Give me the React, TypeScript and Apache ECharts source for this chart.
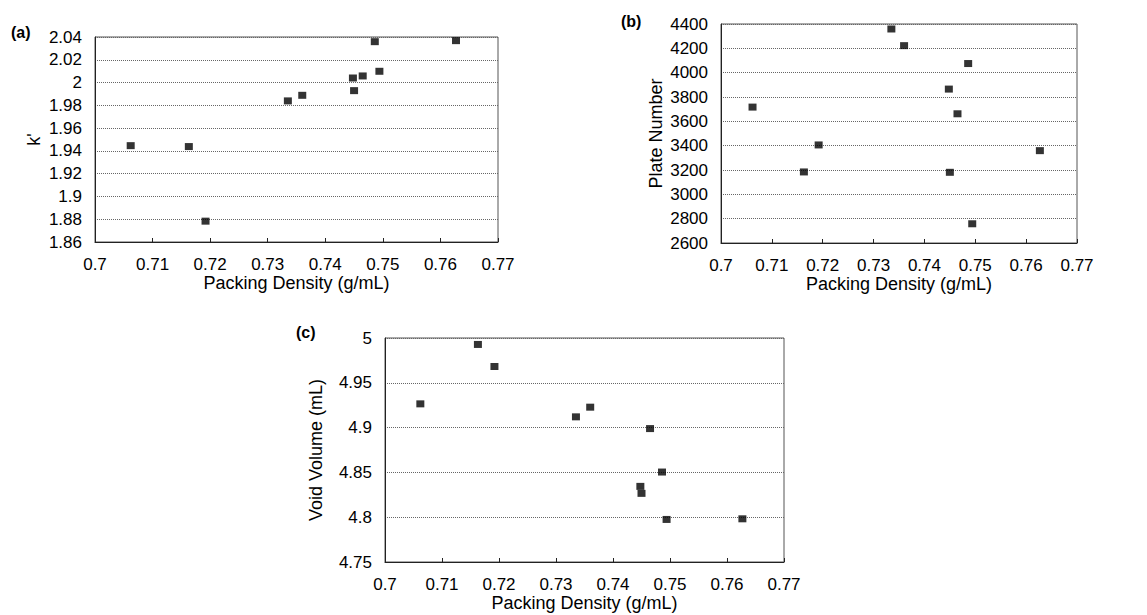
import React, { useEffect, useRef } from "react";
import * as echarts from "echarts";

// Packing density (g/mL), shared by all three panels
const density = [0.7062, 0.7163, 0.7192, 0.7335, 0.736, 0.7448, 0.745, 0.7465, 0.7486, 0.7494, 0.7627];
// (a) capacity factor k'
const kPrime = [1.9446, 1.9438, 1.8783, 1.9839, 1.9888, 2.004, 1.9929, 2.0058, 2.0359, 2.0099, 2.0368];
// (b) plate number
const plateNumber = [3717, 3184, 3406, 4359, 4222, 3865, 3181, 3662, 4075, 2758, 3359];
// (c) void volume (mL)
const voidVolume = [4.9265, 4.9928, 4.9682, 4.912, 4.9228, 4.8344, 4.8266, 4.8989, 4.8504, 4.7975, 4.7982];

const panelLabels = ["(a)", "(b)", "(c)"];
const xTitle = "Packing Density (g/mL)";
const yTitles = ["k'", "Plate Number", "Void Volume (mL)"];

const FONT = "'Liberation Sans', Arial, sans-serif";

export default function App() {
  const ref = useRef<HTMLDivElement>(null);
  useEffect(() => {
    document.body.style.margin = "0";
    const chart = echarts.init(ref.current!, null, { renderer: "svg" });
    const fmt = (v: number) => String(+(+v).toFixed(3));
    const grids = [
      { left: 95, top: 37, width: 403, height: 205 },
      { left: 721, top: 24, width: 356, height: 219 },
      { left: 385, top: 338, width: 399, height: 224 },
    ];
    const yRanges = [
      { min: 1.86, max: 2.04, interval: 0.02, gap: 52 },
      { min: 2600, max: 4400, interval: 200, gap: 56 },
      { min: 4.75, max: 5, interval: 0.05, gap: 60 },
    ];
    const seriesData = [kPrime, plateNumber, voidVolume];
    const option: any = {
      animation: false,
      backgroundColor: "#fff",
      textStyle: { fontFamily: FONT, color: "#000" },
      grid: grids.map((g) => ({ ...g, show: true, borderColor: "#555", borderWidth: 1, containLabel: false })),
      xAxis: grids.map((_, i) => ({
        gridIndex: i,
        type: "value",
        min: 0.7,
        max: 0.77,
        interval: 0.01,
        name: xTitle,
        nameLocation: "middle",
        nameGap: 30,
        nameTextStyle: { fontSize: 18, color: "#000", fontFamily: FONT },
        axisLine: { show: true, lineStyle: { color: "#222", width: 1 } },
        axisTick: { show: true, inside: true, length: 4, lineStyle: { color: "#222" } },
        axisLabel: { fontSize: 17, color: "#000", margin: 14, formatter: fmt, fontFamily: FONT },
        splitLine: { show: false },
      })),
      yAxis: yRanges.map((r, i) => ({
        gridIndex: i,
        type: "value",
        min: r.min,
        max: r.max,
        interval: r.interval,
        name: yTitles[i],
        nameLocation: "middle",
        nameGap: r.gap,
        nameTextStyle: { fontSize: 18, color: "#000", fontFamily: FONT },
        axisLine: { show: true, lineStyle: { color: "#222", width: 1 } },
        axisTick: { show: false },
        axisLabel: { fontSize: 17, color: "#000", margin: 13, formatter: fmt, fontFamily: FONT },
        splitLine: { show: true, lineStyle: { color: "#666", type: "dotted", width: 1 } },
      })),
      series: seriesData.map((vals, i) => ({
        type: "scatter",
        xAxisIndex: i,
        yAxisIndex: i,
        symbol: "rect",
        symbolSize: [8, 7],
        itemStyle: { color: "#000" },
        data: density.map((x, j) => [x, vals[j]]),
      })),
      graphic: [
        { type: "text", left: 11, top: 24, style: { text: panelLabels[0], font: `bold 16px ${FONT}`, fill: "#000" } },
        { type: "text", left: 621, top: 13, style: { text: panelLabels[1], font: `bold 16px ${FONT}`, fill: "#000" } },
        { type: "text", left: 296, top: 324, style: { text: panelLabels[2], font: `bold 16px ${FONT}`, fill: "#000" } },
      ],
    };
    chart.setOption(option);
    return () => chart.dispose();
  }, []);
  return <div ref={ref} style={{ width: 1147, height: 615 }} />;
}
